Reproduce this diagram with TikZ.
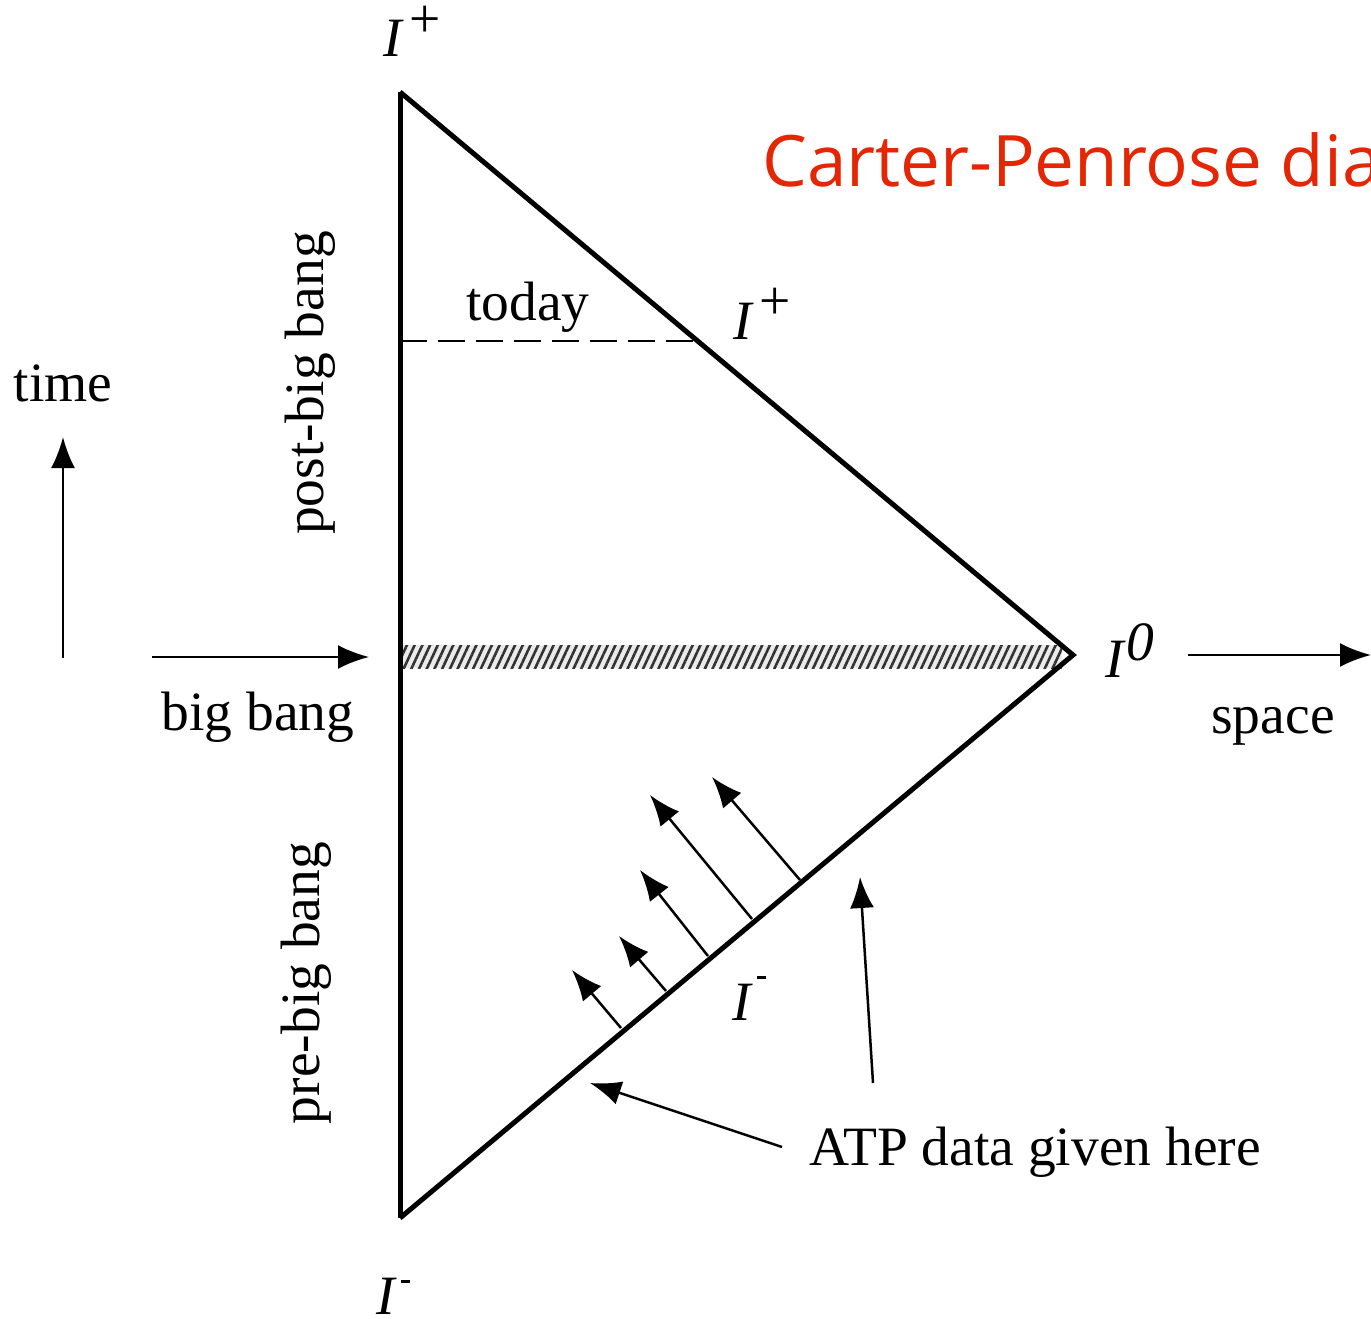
\documentclass[tikz,border=0pt]{standalone}
\usepackage{fontspec}
\setmainfont{Liberation Serif}
\newfontfamily\titlefont{Open Sans}
\usetikzlibrary{arrows.meta,patterns.meta}
\definecolor{titlered}{RGB}{228,38,4}
\begin{document}
\begin{tikzpicture}[x=1pt,y=-1pt,
  edge/.style={line width=5pt,line join=miter},
  arr/.style={line width=2.5pt,-{Latex[length=31pt,width=24pt]}},
  lbl/.style={inner sep=0pt,anchor=base,font=\fontsize{55.5}{60}\selectfont}]
\useasboundingbox (0,0) rectangle (1371,1319);
% vertices
\coordinate (top) at (400,92);
\coordinate (bot) at (400,1218);
\coordinate (rgt) at (1073,655);
% hatched band
\fill[black!8] (401,645) rectangle (1062,668);
\fill[pattern={Lines[angle=65,distance=7pt,line width=2.6pt]},pattern color=black!80] (401,645) rectangle (1062,668);
% triangle
\draw[edge] (top) -- (bot);
\draw[edge] (top) -- (rgt) -- (bot);
% today line
\coordinate (td1) at (400,341);
\coordinate (td2) at (697,341);
\draw[line width=2.5pt,dash pattern=on 27pt off 11pt] (td1) -- (td2);
% labels
\node[lbl] (ip1) at (412,57) {\itshape I\hspace{8pt}\raisebox{19pt}{\upshape +}};
\node[lbl] (ip2) at (762,339) {\itshape I\hspace{8pt}\raisebox{20pt}{\upshape +}};
\node[lbl] (i0) at (1130,677) {\itshape I\hspace{3pt}\raisebox{17pt}{0}};
\node[lbl] (im1) at (749,1020) {\itshape I\hspace{6pt}\raisebox{41pt}{\rule{9pt}{2.6pt}}};
\node[lbl] (im2) at (393,1314) {\itshape I\hspace{6pt}\raisebox{31pt}{\rule{9pt}{2.6pt}}};
\node[lbl] (today) at (528,320) {today};
\node[lbl] (time) at (63,401) {time};
\node[lbl] (bigbang) at (258,730) {big bang};
\node[lbl] (space) at (1273,733) {space};
\node[lbl] (atp) at (1035,1165) {ATP data given here};
\node[lbl,rotate=90] (post) at (323,383) {post-big bang};
\node[lbl,rotate=90] (pre) at (319,983) {pre-big bang};
\node[inner sep=0pt,anchor=base west,text=titlered,font=\titlefont\fontsize{71}{80}\selectfont] (title) at (762,186) {Carter-Penrose diagram};
% axis arrows
\coordinate (t0) at (63,658); \coordinate (t1) at (63,437);
\draw[arr] (t0) -- (t1);
\coordinate (b0) at (152,657); \coordinate (b1) at (369,657);
\draw[arr] (b0) -- (b1);
\coordinate (s0) at (1188,655); \coordinate (s1) at (1371,655);
\draw[arr] (s0) -- (s1);
% ATP arrows
\coordinate (a0) at (782,1147); \coordinate (a1) at (590,1083);
\draw[arr] (a0) -- (a1);
\coordinate (c0) at (873,1083); \coordinate (c1) at (860,877);
\draw[arr] (c0) -- (c1);
% data arrows from I-
\foreach \i/\bx/\by/\tx/\ty in {1/621/1028/572/970, 2/666/991/619/936, 3/708/956/640/870, 4/752/919/650/795, 5/800/880/712/777}{
  \coordinate (d\i b) at (\bx,\by);
  \coordinate (d\i t) at (\tx,\ty);
  \draw[arr] (d\i b) -- (d\i t);
}
\end{tikzpicture}
\end{document}
